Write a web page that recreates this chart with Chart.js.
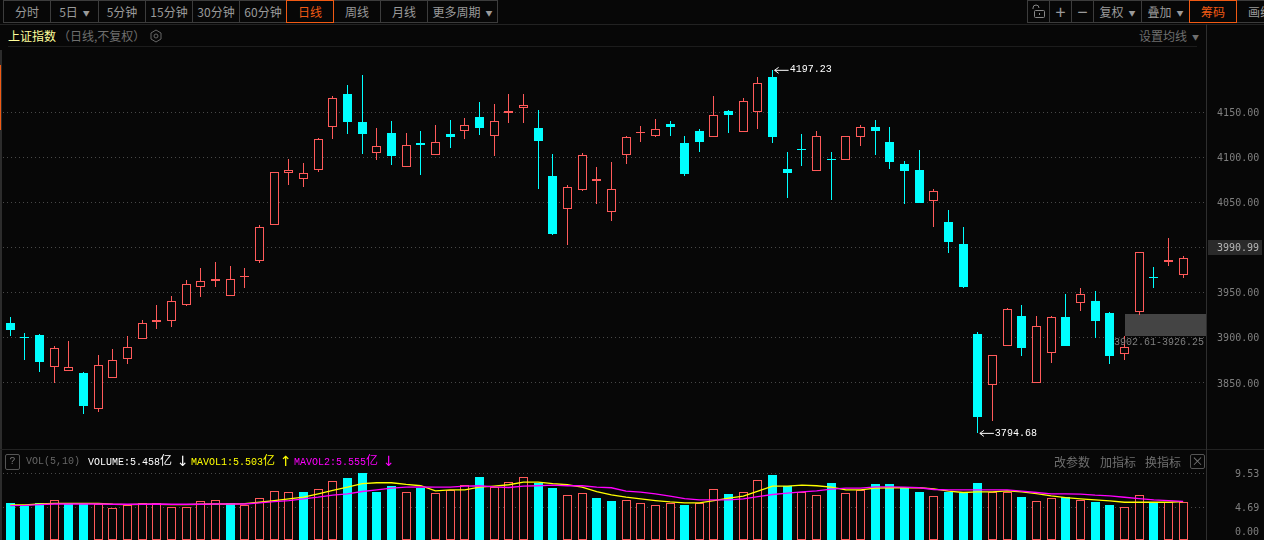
<!DOCTYPE html>
<html>
<head>
<meta charset="utf-8">
<title>上证指数</title>
<script src="https://cdn.jsdelivr.net/npm/chart.js@4/dist/chart.umd.min.js"></script>
<style>
  html, body { margin: 0; padding: 0; background: #070707; overflow: hidden; }
  body { width: 1264px; height: 540px; position: relative; font: 12px "Noto Sans CJK SC", sans-serif; color: #8a8a8a; }
  canvas { position: absolute; left: 0; }
  .abs { position: absolute; white-space: nowrap; }
  .btn { position: absolute; top: 0; height: 21px; line-height: 21px; text-align: center; border: 1px solid #3c3c3c; box-sizing: content-box; margin-left: -1px; color: #9a9a9a; overflow: hidden; }
  .on { border-color: #f05a14; color: #f05a14; z-index: 2; }
  .tri { font-size: 7px; vertical-align: 1px; margin-left: 5px; }
  .mono { font-family: "Liberation Mono", monospace; font-size: 10px; }
  .mono b { font: 12px "Noto Sans CJK SC", sans-serif; }
  .arrow { font: 14px "DejaVu Sans", sans-serif; top: 453px; }
</style>
</head>
<body>

<div class="btn" style="left:4px;width:46px">分时</div>
<div class="btn" style="left:51px;width:47px">5日<span class="tri">▼</span></div>
<div class="btn" style="left:99px;width:46px">5分钟</div>
<div class="btn" style="left:146px;width:46px">15分钟</div>
<div class="btn" style="left:193px;width:46px">30分钟</div>
<div class="btn" style="left:240px;width:46px">60分钟</div>
<div class="btn on" style="left:287px;width:46px">日线</div>
<div class="btn" style="left:334px;width:46px">周线</div>
<div class="btn" style="left:381px;width:46px">月线</div>
<div class="btn" style="left:428px;width:69px">更多周期<span class="tri">▼</span></div>

<div class="btn" style="left:1028px;width:21px"><svg width="14" height="15" viewBox="0 0 14 15" style="margin-top:3px"><path d="M1 4V3a3 3 0 0 1 6 0" transform="translate(0,1)" fill="none" stroke="#888"/><rect x="2.5" y="6.5" width="10" height="7" rx="1" fill="none" stroke="#888"/><rect x="7" y="9" width="1" height="2" fill="#888"/></svg></div>
<div class="btn" style="left:1050px;width:21px;font-size:18px">+</div>
<div class="btn" style="left:1072px;width:21px;font-size:18px">−</div>
<div class="btn" style="left:1094px;width:47px">复权<span class="tri">▼</span></div>
<div class="btn" style="left:1142px;width:47px">叠加<span class="tri">▼</span></div>
<div class="btn on" style="left:1190px;width:46px">筹码</div>
<div class="btn" style="left:1237px;width:46px">画线</div>

<div class="abs" style="left:0;top:24px;width:1264px;height:1px;background:#222"></div>
<div class="abs" style="left:8px;top:27px;color:#ffff9c">上证指数</div>
<div class="abs" style="left:58px;top:27px;color:#6f6f6f">（日线,不复权）</div>
<svg class="abs" style="left:149px;top:29px" width="14" height="14" viewBox="0 0 14 14"><path d="M7 1l5 3v6l-5 3-5-3V4z" fill="none" stroke="#666"/><circle cx="7" cy="7" r="2" fill="none" stroke="#666"/></svg>
<div class="abs" style="left:1139px;top:27px;color:#6f6f6f">设置均线<span class="tri">▼</span></div>
<div class="abs" style="left:8px;top:46px;width:1189px;height:1px;background:#1c1c1c"></div>
<div class="abs" style="left:0;top:50px;width:2px;height:490px;background:#2c2c2c"></div>
<div class="abs" style="left:0;top:65px;width:1px;height:65px;background:#f05a14"></div>

<canvas id="priceChart" width="1264" height="399" style="top:50px"></canvas>

<div class="abs" style="left:0;top:449px;width:1264px;height:1px;background:#222"></div>
<canvas id="volChart" width="1264" height="90" style="top:450px"></canvas>
<div class="abs" style="left:1206px;top:24px;width:1px;height:516px;background:#2e2e2e"></div>

<div class="abs mono" style="left:5px;top:454px;width:13px;height:14px;line-height:14px;text-align:center;border:1px solid #555;border-radius:2px;color:#777">?</div>
<div class="abs mono" style="left:26px;top:456px;color:#666">VOL(5,10)</div>
<div class="abs mono" style="left:88px;top:451px;color:#fff">VOLUME:5.458<b>亿</b></div>
<div class="abs arrow" style="left:177px;color:#fff">↓</div>
<div class="abs mono" style="left:191px;top:451px;color:#ff0">MAVOL1:5.503<b>亿</b></div>
<div class="abs arrow" style="left:280px;color:#ff0">↑</div>
<div class="abs mono" style="left:294px;top:451px;color:#f0f">MAVOL2:5.555<b>亿</b></div>
<div class="abs arrow" style="left:383px;color:#f0f">↓</div>
<div class="abs" style="left:1054px;top:453px;color:#6f6f6f">改参数</div>
<div class="abs" style="left:1100px;top:453px;color:#6f6f6f">加指标</div>
<div class="abs" style="left:1145px;top:453px;color:#6f6f6f">换指标</div>
<div class="abs" style="left:1190px;top:454px;width:13px;height:13px;line-height:12px;text-align:center;border:1px solid #555;border-radius:2px;color:#777">×</div>

<script>
// day index, one empty slot is left on the right of the last candle
var categories = []
for (var n = 0; n < 82; n++) categories.push(n)

var opens = [3916.6,3901.0,3903.3,3868.2,3863.7,3861.1,3821.6,3856.0,3877.0,3899.2,
  3917.7,3919.1,3936.9,3956.8,3963.1,3946.9,3967.9,3985.7,4025.6,4083.2,
  4076.6,4086.5,4134.2,4170.4,4139.4,4105.4,4127.2,4089.9,4116.1,4103.2,
  4126.1,4129.8,4144.9,4124.2,4149.3,4155.3,4132.7,4079.5,4043.3,4064.4,
  4074.0,4040.0,4103.2,4127.6,4124.2,4137.2,4116.1,4129.4,4123.1,4151.6,
  4128.7,4150.8,4189.3,4087.3,4109.4,4085.4,4098.3,4097.6,4123.1,4133.8,
  4117.2,4092.8,4086.2,4052.2,4028.5,4004.2,3904.4,3848.2,3891.5,3924.3,
  3850.4,3883.7,3923.2,3939.1,3941.0,3927.7,3882.6,3929.1,3967.5,3984.6,3970.2]
var closes = [3908.8,3900.4,3873.3,3888.5,3867.4,3824.6,3869.6,3875.2,3889.6,3916.2,
  3919.9,3940.6,3959.4,3962.8,3965.3,3965.0,3968.5,4022.6,4083.6,4085.8,
  4082.5,4120.2,4165.6,4139.4,4126.1,4112.4,4101.7,4113.5,4113.9,4116.8,
  4122.7,4135.7,4132.7,4140.1,4151.6,4157.8,4118.3,4015.2,4067.0,4102.4,
  4076.2,4064.7,4122.4,4128.2,4131.2,4133.8,4081.7,4117.2,4146.8,4147.1,
  4162.3,4182.2,4122.7,4082.8,4108.8,4123.5,4097.7,4123.5,4133.5,4129.4,
  4095.0,4085.1,4049.6,4062.5,4006.4,3956.5,3812.4,3880.7,3931.7,3888.9,
  3912.9,3922.9,3891.1,3948.4,3918.8,3880.0,3889.6,3994.9,3966.9,3986.4,3988.3]
var highs = [3923.2,3905.5,3904.0,3891.1,3896.6,3862.2,3881.1,3887.7,3902.2,3919.5,
  3936.5,3946.5,3964.2,3977.5,3984.2,3979.7,3977.5,4025.2,4083.6,4098.4,
  4093.9,4121.6,4168.2,4180.4,4191.5,4132.4,4140.5,4127.2,4129.4,4136.0,
  4141.6,4143.8,4161.5,4159.3,4170.4,4170.4,4152.7,4103.9,4069.5,4105.0,
  4089.5,4095.0,4123.9,4134.9,4142.7,4140.5,4123.9,4131.6,4168.2,4152.7,
  4166.0,4189.3,4197.23,4106.1,4126.1,4129.4,4106.1,4123.5,4136.0,4141.6,
  4133.8,4096.1,4108.3,4065.1,4041.8,4023.0,3906.2,3880.7,3933.2,3936.5,
  3924.3,3924.3,3948.7,3955.4,3952.1,3928.8,3902.2,3994.9,3978.7,4010.8,3990.9]
var lows = [3902.2,3875.5,3862.2,3850.1,3863.7,3815.7,3817.9,3856.0,3871.1,3899.2,
  3909.9,3912.1,3935.4,3945.4,3956.5,3946.9,3955.4,3983.1,4025.6,4069.5,
  4067.3,4083.9,4120.5,4126.1,4103.9,4097.2,4091.7,4089.9,4080.6,4103.2,
  4110.6,4120.5,4125.0,4101.7,4138.3,4138.3,4065.1,4014.1,4003.0,4062.9,
  4048.5,4029.6,4092.8,4117.2,4122.7,4123.9,4079.5,4106.1,4123.1,4127.2,
  4128.7,4131.6,4116.1,4055.1,4090.6,4085.4,4052.9,4097.6,4112.8,4102.8,
  4087.3,4048.5,4049.6,4023.0,3994.2,3955.4,3794.68,3807.9,3891.5,3880.0,
  3850.4,3872.2,3891.1,3929.9,3900.0,3871.1,3875.6,3925.5,3955.4,3979.8,3966.5]

var volumes = [5.37,4.93,5.37,5.75,5.13,5.13,5.13,4.59,5.08,5.32,
  5.27,4.79,4.79,5.61,5.75,5.37,5.03,6.04,7.06,6.91,
  6.82,7.35,8.51,8.85,9.57,6.96,7.69,6.91,7.40,6.77,
  7.21,7.93,8.99,7.64,8.37,9.09,8.12,7.40,6.48,6.77,
  6.09,5.66,5.75,5.32,5.03,5.32,5.08,5.32,7.35,6.67,
  6.91,8.66,9.28,7.69,6.91,6.48,8.12,6.77,7.21,7.98,
  7.98,7.50,6.96,6.33,6.82,6.72,8.12,6.91,6.91,6.24,
  5.61,6.04,6.19,5.75,5.51,5.08,4.74,6.48,5.46,5.46,5.46]
var volUp = [0,0,0,1,0,0,1,1,1,1,
  1,1,1,1,1,0,1,1,1,1,
  0,1,1,0,0,0,0,1,0,1,
  1,1,0,1,1,1,0,0,1,1,
  0,0,1,1,1,1,0,1,1,0,
  1,1,0,0,1,1,0,1,1,0,
  0,0,0,1,0,0,0,1,1,0,
  1,1,0,1,0,0,1,1,0,1,1]
var mavol1 = [5.03,5.03,5.17,5.27,5.27,5.27,5.27,5.13,5.08,5.13,
  5.13,5.08,5.08,5.13,5.17,5.17,5.22,5.42,5.66,5.90,
  6.14,6.62,7.11,7.59,8.08,8.22,8.22,7.98,7.79,7.06,
  7.21,7.21,7.59,7.74,7.93,8.32,8.32,8.08,7.93,7.59,
  6.96,6.48,6.14,5.90,5.66,5.46,5.32,5.32,5.66,6.00,
  6.29,7.01,7.74,7.74,7.88,7.79,7.59,7.21,7.21,7.45,
  7.50,7.50,7.50,7.35,7.01,6.82,6.91,6.91,7.06,6.91,
  6.67,6.33,6.09,5.90,5.75,5.61,5.42,5.42,5.42,5.42,5.503]
var mavol2 = [4.93,4.98,5.08,5.17,5.17,5.17,5.17,5.13,5.13,5.13,
  5.17,5.13,5.13,5.13,5.17,5.17,5.17,5.32,5.51,5.66,
  5.90,6.14,6.43,6.62,6.96,7.21,7.45,7.59,7.64,7.59,
  7.59,7.74,7.79,7.64,7.54,7.74,7.79,7.88,7.79,7.79,
  7.59,7.50,7.01,6.87,6.62,6.29,5.95,5.75,5.75,5.75,
  5.90,6.24,6.53,6.72,6.91,7.06,7.30,7.45,7.45,7.64,
  7.64,7.59,7.50,7.25,7.21,7.21,7.21,7.21,7.21,7.01,
  6.82,6.62,6.62,6.58,6.43,6.33,6.14,5.95,5.75,5.66,5.555]

var priceTicks = [3850, 3900, 3950, 4000, 4050, 4100, 4150]
var volTicks = [0, 4.69, 9.53]
var lastPrice = "3990.99"
var rangeLow = 3902.61
var rangeHigh = 3926.25
var highIndex = 52
var lowIndex = 66

var RED = "#ff5a5a"
var CYAN = "#00ffff"
var BG = "#070707"
var TICK_FONT = "10px 'DejaVu Sans Mono', monospace"

// pixel snap bars so wicks and hollow bodies stay crisp
var snapBars = {
  id: "snapBars",
  afterDatasetsUpdate: function (chart) {
    chart.data.datasets.forEach(function (ds, d) {
      if (ds.type === "line") return
      chart.getDatasetMeta(d).data.forEach(function (el) {
        el.x = Math.floor(el.x) + 0.5
        el.y = Math.round(el.y)
        el.base = Math.round(el.base)
        if (el.y === el.base) el.base = el.y + 1
        el.height = el.base - el.y
      })
    })
  }
}

function arrowLabel(ctx, x, y, text) {
  ctx.strokeStyle = "#fff"
  ctx.lineWidth = 1
  ctx.beginPath()
  ctx.moveTo(x, y + 0.5); ctx.lineTo(x + 14, y + 0.5)
  ctx.moveTo(x + 4, y - 2.5); ctx.lineTo(x, y + 0.5); ctx.lineTo(x + 4, y + 3.5)
  ctx.stroke()
  ctx.fillStyle = "#fff"
  ctx.font = "10px 'Liberation Mono', monospace"
  ctx.textAlign = "left"
  ctx.textBaseline = "middle"
  ctx.fillText(text, x + 15, y)
}

var priceMarks = {
  id: "priceMarks",
  beforeDatasetsDraw: function (chart) {
    var ctx = chart.ctx, xs = chart.scales.x, ys = chart.scales.y
    var left = Math.round(xs.getPixelForValue(76) + 0.5)
    var top = Math.round(ys.getPixelForValue(rangeHigh))
    var bottom = Math.round(ys.getPixelForValue(rangeLow))
    ctx.fillStyle = "#444"
    ctx.fillRect(left, top, chart.chartArea.right - left + 1, bottom - top)
  },
  afterDatasetsDraw: function (chart) {
    var ctx = chart.ctx, xs = chart.scales.x, ys = chart.scales.y
    ctx.save()
    arrowLabel(ctx, xs.getPixelForValue(highIndex) + 2, ys.getPixelForValue(highs[highIndex]), highs[highIndex].toFixed(2))
    arrowLabel(ctx, xs.getPixelForValue(lowIndex) + 2, ys.getPixelForValue(lows[lowIndex]), lows[lowIndex].toFixed(2))

    ctx.fillStyle = "#7f7f7f"
    ctx.font = "10px 'Liberation Mono', monospace"
    ctx.textAlign = "right"
    ctx.textBaseline = "middle"
    ctx.fillText(rangeLow.toFixed(2) + "-" + rangeHigh.toFixed(2), chart.chartArea.right - 1, ys.getPixelForValue(rangeLow) + 7)

    // last price chip sits on the 4000 tick
    var y = ys.getPixelForValue(4000)
    ctx.fillStyle = "#2a2a2a"
    ctx.fillRect(1208, Math.round(y) - 8, 54, 15)
    ctx.fillStyle = "#b5b5b5"
    ctx.font = TICK_FONT
    ctx.textAlign = "left"
    ctx.fillText(lastPrice, 1217, y + 1)
    ctx.restore()
  }
}

var volMarks = {
  id: "volMarks",
  afterDatasetsDraw: function (chart) {
    var ctx = chart.ctx
    ctx.save()
    ctx.fillStyle = "#7f7f7f"
    ctx.font = TICK_FONT
    ctx.textAlign = "left"
    ctx.textBaseline = "middle"
    ctx.fillText("0.00", 1235, chart.scales.y.getPixelForValue(0) - 8)
    ctx.restore()
  }
}

function yAxis(min, max, tickList, pad, label) {
  return {
    position: "right",
    min: min,
    max: max,
    afterBuildTicks: function (scale) {
      scale.ticks = tickList.map(function (v) { return { value: v } })
    },
    afterFit: function (scale) {
      scale.width = 58.9
      scale.paddingTop = 0
      scale.paddingBottom = 0
    },
    border: { display: false, dash: [1, 3] },
    grid: { color: "#484848", drawTicks: false, lineWidth: 1, tickLength: 0 },
    ticks: {
      color: "#7f7f7f",
      font: { family: "'DejaVu Sans Mono', monospace", size: 10 },
      autoSkip: false,
      padding: pad,
      labelOffset: 1,
      callback: label
    }
  }
}

var baseOptions = {
  responsive: false,
  devicePixelRatio: 1,
  animation: false,
  layout: { padding: { left: 3, right: 0, top: 0, bottom: 0 } },
  plugins: { legend: { display: false }, tooltip: { enabled: false } },
  events: []
}

var priceAxis = yAxis(3776.8, 4219.2, priceTicks, 12, function (v) {
  return v === 4000 ? "" : v.toFixed(2)
})

new Chart(document.getElementById("priceChart").getContext("2d"), {
  type: "bar",
  data: {
    labels: categories,
    datasets: [
      {
        label: "wick",
        data: lows.map(function (l, i) { return [l, highs[i]] }),
        backgroundColor: function (c) { return closes[c.dataIndex] >= opens[c.dataIndex] ? RED : CYAN },
        barThickness: 1,
        grouped: false,
        inflateAmount: 0,
        order: 2
      },
      {
        label: "body",
        data: opens.map(function (o, i) { return [o, closes[i]] }),
        backgroundColor: function (c) { return closes[c.dataIndex] >= opens[c.dataIndex] ? BG : CYAN },
        borderColor: function (c) { return closes[c.dataIndex] >= opens[c.dataIndex] ? RED : CYAN },
        borderWidth: 1,
        borderSkipped: false,
        barThickness: 9,
        grouped: false,
        inflateAmount: 0,
        order: 1
      }
    ]
  },
  options: Object.assign({}, baseOptions, {
    scales: { x: { display: false }, y: priceAxis }
  }),
  plugins: [snapBars, priceMarks]
})

var volAxis = yAxis(0, 12.92, volTicks, 30, function (v) {
  return v === 0 ? "" : v.toFixed(2)
})

new Chart(document.getElementById("volChart").getContext("2d"), {
  type: "bar",
  data: {
    labels: categories,
    datasets: [
      {
        type: "line",
        label: "MAVOL2",
        data: mavol2,
        borderColor: "#ff00ff",
        borderWidth: 1.3,
        pointRadius: 0,
        tension: 0,
        order: 1
      },
      {
        type: "line",
        label: "MAVOL1",
        data: mavol1,
        borderColor: "#ffff00",
        borderWidth: 1.3,
        pointRadius: 0,
        tension: 0,
        order: 2
      },
      {
        label: "VOLUME",
        data: volumes,
        backgroundColor: function (c) { return volUp[c.dataIndex] ? BG : CYAN },
        borderColor: function (c) { return volUp[c.dataIndex] ? RED : CYAN },
        borderWidth: 1,
        borderSkipped: false,
        barThickness: 9,
        grouped: false,
        inflateAmount: 0,
        order: 3
      }
    ]
  },
  options: Object.assign({}, baseOptions, {
    scales: { x: { display: false }, y: volAxis }
  }),
  plugins: [snapBars, volMarks]
})
</script>
</body>
</html>
